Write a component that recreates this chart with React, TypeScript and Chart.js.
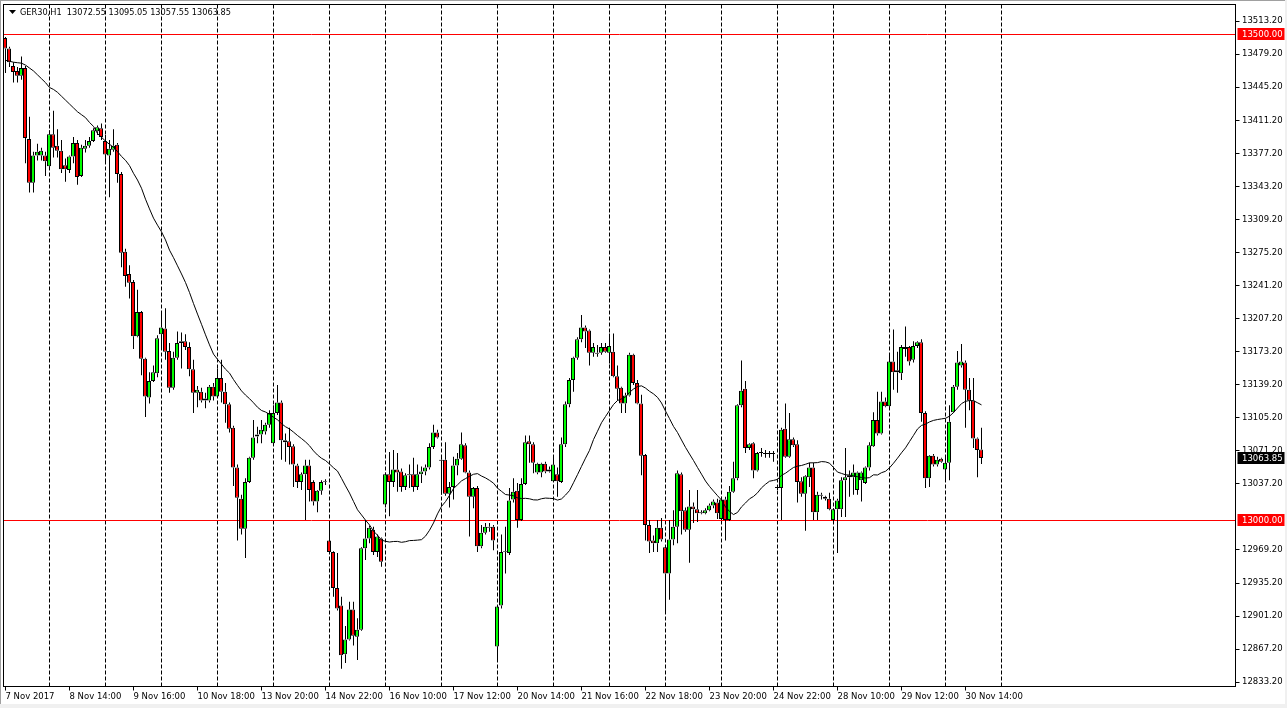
import React, { useEffect, useRef } from "react";
import { Chart, registerables } from "chart.js";

Chart.register(...registerables);

const symbol = "GER30";
const timeframe = "H1";
const year = 2017;
const tradingDays = ["7 Nov", "8 Nov", "9 Nov", "10 Nov", "13 Nov", "14 Nov", "15 Nov", "16 Nov", "17 Nov", "20 Nov", "21 Nov", "22 Nov", "23 Nov", "24 Nov", "27 Nov", "28 Nov", "29 Nov", "30 Nov", "1 Dec"];
const firstSessionHour = 12;
const sessionOpenHour = 9;
const sessionCloseHour = 22;
const totalSlots = 308;
const timeLabelEvery = 16;

const open = [
  13496, 13485, 13467, 13462, 13457, 13465, 13392, 13347, 13375, 13375,
  13375, 13364, 13397, 13385, 13380, 13365, 13360, 13374, 13388, 13354,
  13382, 13385, 13390, 13400, 13403, 13390, 13375, 13381, 13386, 13356,
  13276, 13253, 13245, 13189, 13214, 13166, 13126, 13143, 13151, 13191,
  13197, 13174, 13136, 13167, 13182, 13184, 13178, 13155, 13131, 13132,
  13125, 13123, 13137, 13127, 13146, 13132, 13119, 13095, 13054, 13022,
  12991, 13039, 13064, 13086, 13088, 13091, 13098, 13079, 13110, 13121,
  13082, 13081, 13076, 13056, 13039, 13047, 13056, 13039, 13019, 13030,
  13040, 12979, 12967, 12930, 12912, 12862, 12877, 12908, 12880, 12887,
  12971, 12981, 12990, 12967, 12981, 13016, 13047, 13039, 13052, 13050,
  13034, 13047, 13047, 13034, 13047, 13050, 13054, 13075, 13090, 13062,
  13062, 13027, 13034, 13056, 13063, 13077, 13049, 13024, 13033, 12973,
  12987, 12993, 12993, 12870, 12912, 12967, 12966, 13021, 13030, 13000,
  13037, 13081, 13078, 13049, 13049, 13058, 13052, 13040, 13047, 13039,
  13078, 13119, 13144, 13167, 13186, 13198, 13195, 13172, 13171, 13172,
  13178, 13172, 13173, 13148, 13136, 13120, 13128, 13170, 13141, 13120,
  13067, 12995, 12979, 12976, 12992, 12972, 12945, 12980, 12993, 13047,
  13010, 12990, 13014, 13011, 13008, 13007, 13010, 13015, 13018, 13001,
  13021, 13000, 13029, 13043, 13118, 13135, 13074, 13079, 13051, 13070,
  13069, 13069, 13069, 13034, 13033, 13094, 13065, 13083, 13078, 13040,
  13027, 13044, 13054, 13008, 13026, 13024, 13022, 13000, 13011, 13011,
  13041, 13046, 13044, 13031, 13041, 13038, 13054, 13076, 13103, 13089,
  13122, 13117, 13163, 13154, 13151, 13178, 13178, 13165, 13179, 13183,
  13110, 13043, 13066, 13057, 13063, 13052, 13059, 13111, 13137, 13159,
  13162, 13134, 13123, 13084, 13072.55,
];
const high = [
  13497, 13487, 13471, 13466, 13477, 13467, 13415, 13379, 13387, 13383,
  13379, 13401, 13421, 13402, 13391, 13372, 13375, 13394, 13391, 13386,
  13391, 13394, 13403, 13406, 13408, 13396, 13391, 13402, 13388, 13358,
  13279, 13262, 13247, 13237, 13215, 13167, 13152, 13159, 13190, 13212,
  13218, 13182, 13173, 13194, 13193, 13191, 13183, 13165, 13138, 13136,
  13131, 13139, 13141, 13156, 13165, 13141, 13121, 13097, 13057, 13026,
  13043, 13065, 13103, 13096, 13103, 13100, 13113, 13118, 13139, 13123,
  13089, 13095, 13078, 13058, 13049, 13062, 13062, 13041, 13031, 13041,
  13042, 12996, 12968, 12966, 12921, 12891, 12916, 12916, 12899, 12972,
  13000, 12994, 12993, 12985, 12982, 13049, 13070, 13072, 13069, 13053,
  13048, 13057, 13064, 13057, 13055, 13057, 13079, 13098, 13093, 13067,
  13080, 13039, 13065, 13069, 13090, 13079, 13051, 13034, 13035, 12995,
  12997, 12997, 12995, 12912, 12985, 12993, 13033, 13043, 13038, 13043,
  13087, 13087, 13080, 13059, 13059, 13060, 13055, 13065, 13054, 13085,
  13122, 13146, 13168, 13188, 13211, 13200, 13196, 13182, 13180, 13182,
  13182, 13192, 13192, 13159, 13137, 13131, 13172, 13171, 13144, 13129,
  13068, 13000, 12984, 13000, 13002, 12973, 13000, 13010, 13051, 13049,
  13013, 13031, 13018, 13031, 13010, 13012, 13017, 13021, 13022, 13024,
  13024, 13035, 13060, 13119, 13164, 13143, 13079, 13080, 13070, 13074,
  13072, 13071, 13071, 13036, 13095, 13120, 13110, 13085, 13082, 13044,
  13046, 13059, 13059, 13029, 13028, 13025, 13028, 13012, 13022, 13044,
  13074, 13051, 13057, 13050, 13050, 13055, 13080, 13111, 13132, 13132,
  13126, 13170, 13196, 13173, 13180, 13199, 13179, 13184, 13184, 13186,
  13112, 13067, 13068, 13065, 13064, 13065, 13118, 13139, 13174, 13181,
  13164, 13146, 13146, 13085, 13095.05,
];
const low = [
  13460, 13466, 13450, 13450, 13453, 13367, 13337, 13337, 13370, 13370,
  13354, 13360, 13373, 13373, 13357, 13348, 13357, 13367, 13345, 13353,
  13378, 13383, 13389, 13396, 13391, 13367, 13332, 13379, 13347, 13260,
  13240, 13228, 13176, 13188, 13149, 13106, 13120, 13142, 13147, 13177,
  13165, 13131, 13134, 13165, 13156, 13175, 13148, 13110, 13116, 13121,
  13115, 13121, 13123, 13126, 13121, 13100, 13090, 13035, 12979, 12985,
  12961, 13038, 13062, 13079, 13079, 13088, 13095, 13077, 13108, 13062,
  13060, 13057, 13034, 13033, 13031, 13000, 13019, 13015, 13008, 13026,
  13036, 12966, 12921, 12907, 12847, 12853, 12876, 12871, 12856, 12886,
  12959, 12976, 12964, 12962, 12952, 13013, 13004, 13034, 13029, 13029,
  13031, 13033, 13029, 13031, 13038, 13046, 13052, 13073, 13084, 13026,
  13025, 13013, 13021, 13046, 13062, 13048, 12983, 13012, 12967, 12971,
  12985, 12988, 12969, 12856, 12909, 12945, 12964, 13018, 12992, 12999,
  13036, 13059, 13048, 13047, 13044, 13048, 13049, 13039, 13024, 13038,
  13075, 13116, 13132, 13165, 13183, 13177, 13159, 13168, 13168, 13170,
  13172, 13161, 13147, 13123, 13110, 13110, 13127, 13139, 13119, 13046,
  12979, 12966, 12967, 12967, 12978, 12904, 12918, 12974, 12976, 12985,
  12988, 12956, 12997, 12998, 13006, 13006, 13009, 13012, 13001, 13000,
  12979, 12999, 13028, 13041, 13116, 13069, 13072, 13043, 13050, 13065,
  13064, 13064, 13060, 13031, 13000, 13064, 13064, 13075, 13018, 13024,
  12989, 13034, 13000, 13000, 13021, 13020, 13010, 12999, 12966, 13003,
  13003, 13024, 13026, 13026, 13019, 13037, 13051, 13075, 13087, 13088,
  13116, 13116, 13134, 13131, 13144, 13168, 13159, 13162, 13177, 13101,
  13033, 13034, 13055, 13055, 13059, 13041, 13041, 13110, 13134, 13157,
  13095, 13113, 13074, 13044, 13057.55,
];
const close = [
  13485, 13471, 13461, 13457, 13465, 13393, 13347, 13375, 13379, 13380,
  13369, 13397, 13383, 13380, 13361, 13361, 13374, 13388, 13353, 13383,
  13385, 13390, 13401, 13404, 13394, 13376, 13382, 13385, 13356, 13275,
  13251, 13244, 13189, 13214, 13166, 13127, 13143, 13152, 13187, 13198,
  13173, 13136, 13167, 13182, 13184, 13178, 13155, 13131, 13134, 13123,
  13123, 13137, 13127, 13146, 13132, 13119, 13094, 13054, 13023, 12991,
  13039, 13064, 13085, 13088, 13093, 13098, 13110, 13110, 13121, 13082,
  13080, 13075, 13057, 13039, 13047, 13056, 13031, 13019, 13030, 13039,
  13039, 12967, 12930, 12909, 12861, 12877, 12908, 12881, 12887, 12971,
  12981, 12992, 12967, 12983, 12957, 13047, 13039, 13052, 13049, 13034,
  13046, 13046, 13034, 13047, 13050, 13054, 13075, 13090, 13085, 13061,
  13027, 13034, 13056, 13063, 13078, 13049, 13024, 13033, 12973, 12987,
  12993, 12992, 12979, 12911, 12967, 12968, 13020, 13029, 13000, 13037,
  13080, 13078, 13059, 13058, 13058, 13050, 13050, 13057, 13040, 13078,
  13119, 13144, 13167, 13186, 13198, 13194, 13172, 13178, 13172, 13178,
  13173, 13179, 13148, 13135, 13120, 13128, 13170, 13141, 13120, 13066,
  12995, 12978, 12976, 12992, 12980, 12945, 12980, 12993, 13048, 13009,
  12990, 13014, 13011, 13007, 13007, 13010, 13015, 13019, 13007, 13021,
  13000, 13029, 13043, 13118, 13133, 13074, 13078, 13051, 13069, 13069,
  13068, 13068, 13068, 13033, 13093, 13065, 13083, 13077, 13039, 13027,
  13045, 13054, 13008, 13026, 13025, 13022, 13011, 13011, 13020, 13041,
  13044, 13044, 13049, 13049, 13049, 13054, 13077, 13103, 13089, 13122,
  13117, 13163, 13152, 13152, 13178, 13176, 13163, 13179, 13183, 13110,
  13043, 13066, 13057, 13062, 13060, 13059, 13101, 13137, 13162, 13163,
  13134, 13123, 13084, 13072, 13063.85,
];

const maLead = [
  13473, 13472, 13471, 13470.5, 13470, 13468, 13465, 13462, 13458, 13454,
  13450, 13445, 13443, 13440, 13436, 13432, 13428, 13424, 13420, 13417,
  13414, 13409, 13405,
];
const maPeriod = 24;

const priceTicks = [
  13513.2, 13479.2, 13445.2, 13411.2, 13377.2, 13343.2, 13309.2, 13275.2, 13241.2, 13207.2,
  13173.2, 13139.2, 13105.2, 13071.2, 13037.2, 12969.2, 12935.2, 12901.2, 12867.2, 12833.2,
];
const levelLines = [13500, 13000];
const priceMin = 12828.73;
const priceMax = 13530.37;

// ---------- derived ----------
type BarTime = { day: string; hour: number };
const barTimes: BarTime[] = [];
tradingDays.forEach((day, d) => {
  const start = d === 0 ? firstSessionHour : sessionOpenHour;
  for (let h = start; h <= sessionCloseHour; h++) barTimes.push({ day, hour: h });
});
const pad2 = (n: number) => (n < 10 ? "0" + n : String(n));
const slotLabels: string[] = [];
for (let i = 0; i < totalSlots; i++) {
  const t = barTimes[i];
  slotLabels.push(t ? `${t.day} ${pad2(t.hour)}:00` : "");
}
const lastIdx = close.length - 1;
const maValues = close.map((_, i) => {
  if (i < maLead.length) return maLead[i];
  let s = 0;
  for (let k = i - maPeriod + 1; k <= i; k++) s += close[k];
  return s / maPeriod;
});
const timeTickIdx: number[] = [];
for (let i = 0; i <= lastIdx; i += timeLabelEvery) timeTickIdx.push(i);

const upperWick = high.map((h, i) => [Math.max(open[i], close[i]), h]);
const lowerWick = low.map((l, i) => [l, Math.min(open[i], close[i])]);
const bodies = open.map((o, i) => ({ x: i, y: [o, close[i]] }));

const BULL = "#00ff00";
const BEAR = "#ff0000";
const FONT = "'DejaVu Sans', sans-serif";

const mt4Plugin = {
  id: "mt4Decor",
  beforeDraw(chart: any) {
    const { ctx, width, height } = chart;
    ctx.save();
    ctx.fillStyle = "#ffffff";
    ctx.fillRect(0, 0, width, height);
    ctx.restore();
  },
  beforeDatasetsDraw(chart: any) {
    const { ctx, chartArea: a, scales } = chart;
    const xs = scales.x;
    const ys = scales.y;
    ctx.save();
    ctx.strokeStyle = "#000000";
    ctx.lineWidth = 1;
    ctx.setLineDash([4, 2]);
    barTimes.forEach((t, i) => {
      if (i > 0 && t.hour === sessionOpenHour && i <= lastIdx + 6) {
        const px = Math.floor(xs.getPixelForValue(i)) + 0.5;
        ctx.beginPath();
        ctx.moveTo(px, a.top);
        ctx.lineTo(px, a.bottom);
        ctx.stroke();
      }
    });
    ctx.setLineDash([]);
    ctx.strokeStyle = "#ff0000";
    levelLines.forEach((v) => {
      const py = Math.floor(ys.getPixelForValue(v)) + 0.5;
      ctx.beginPath();
      ctx.moveTo(a.left, py);
      ctx.lineTo(a.right, py);
      ctx.stroke();
    });
    ctx.restore();
  },
  afterDraw(chart: any) {
    const { ctx, chartArea: a, scales, width, height } = chart;
    const ys = scales.y;
    ctx.save();
    ctx.strokeStyle = "#000000";
    ctx.lineWidth = 1;
    ctx.strokeRect(a.left, a.top, a.right - a.left, a.bottom - a.top);
    ctx.fillStyle = "#a0a0a0";
    ctx.fillRect(0, 0, 1, height);
    ctx.fillRect(0, 0, width, 1);
    ctx.fillStyle = "#f0f0f0";
    ctx.fillRect(0, height - 4, width, 4);
    ctx.fillRect(width - 2, 0, 2, height);

    ctx.fillStyle = "#000000";
    ctx.beginPath();
    ctx.moveTo(9, 10);
    ctx.lineTo(16, 10);
    ctx.lineTo(12.5, 14);
    ctx.closePath();
    ctx.fill();
    ctx.font = `8.2px ${FONT}`;
    ctx.textBaseline = "middle";
    ctx.textAlign = "left";
    const hdr = `${symbol},${timeframe}  ${open[lastIdx].toFixed(2)} ${high[lastIdx].toFixed(2)} ${low[lastIdx].toFixed(2)} ${close[lastIdx].toFixed(2)}`;
    ctx.fillText(hdr, 20, 13);

    ctx.font = `8.5px ${FONT}`;
    const tag = (v: number, bg: string) => {
      const py = Math.round(ys.getPixelForValue(v));
      ctx.fillStyle = bg;
      ctx.fillRect(a.right + 2, py - 6, 47, 12);
      ctx.fillStyle = "#ffffff";
      ctx.fillText(v.toFixed(2), a.right + 6.5, py + 0.5);
    };
    levelLines.forEach((v) => tag(v, "#ff0000"));
    tag(close[lastIdx], "#000000");
    ctx.restore();
  },
};

export default function App() {
  const ref = useRef<HTMLCanvasElement | null>(null);
  useEffect(() => {
    document.body.style.margin = "0";
    const canvas = ref.current;
    if (!canvas) return;
    const wickBase = {
      type: "bar",
      backgroundColor: "#000000",
      borderWidth: 0,
      barThickness: 1,
      maxBarThickness: 1,
      grouped: false,
      inflateAmount: 0,
      order: 3,
    };
    const chart = new Chart(canvas, {
      type: "bar",
      data: {
        labels: slotLabels,
        datasets: [
          {
            type: "line",
            data: maValues,
            borderColor: "#000000",
            borderWidth: 1,
            pointRadius: 0,
            tension: 0,
            order: 1,
          } as any,
          {
            type: "bar",
            xAxisID: "xb",
            data: bodies,
            backgroundColor: open.map((o, i) => (close[i] >= o ? BULL : BEAR)),
            borderColor: "#000000",
            borderWidth: 1,
            borderSkipped: false,
            barThickness: 4,
            maxBarThickness: 4,
            grouped: false,
            inflateAmount: 0,
            order: 2,
          } as any,
          { ...wickBase, data: upperWick } as any,
          { ...wickBase, data: lowerWick } as any,
        ],
      },
      options: {
        responsive: false,
        animation: false,
        devicePixelRatio: 1,
        events: [],
        layout: { padding: { left: 3.5, top: 4.5, right: 0, bottom: 0 } },
        plugins: { legend: { display: false }, tooltip: { enabled: false } },
        scales: {
          x: {
            type: "category",
            offset: true,
            afterBuildTicks: (scale: any) => {
              scale.ticks = timeTickIdx.map((v) => ({ value: v }));
            },
            afterFit: (scale: any) => {
              scale.height = 21.5;
              scale.paddingLeft = 0;
              scale.paddingRight = 0;
            },
            grid: { offset: false, drawOnChartArea: false, drawTicks: true, tickLength: 4, color: "#000000" },
            border: { display: false },
            ticks: {
              autoSkip: false,
              maxRotation: 0,
              minRotation: 0,
              align: "start",
              padding: 1,
              color: "#000000",
              font: { family: FONT, size: 8.5 },
              callback: (value: any) => {
                const t = barTimes[Number(value)];
                if (!t) return "";
                return Number(value) === 0 ? `${t.day} ${year}` : `${t.day} ${pad2(t.hour)}:00`;
              },
            },
          },
          xb: {
            type: "linear",
            display: false,
            offset: false,
            min: -0.375,
            max: totalSlots - 0.375,
          },
          y: {
            type: "linear",
            position: "right",
            min: priceMin,
            max: priceMax,
            afterBuildTicks: (scale: any) => {
              scale.ticks = priceTicks.map((v) => ({ value: v }));
            },
            afterFit: (scale: any) => {
              scale.width = 51.5;
              scale.paddingTop = 0;
              scale.paddingBottom = 0;
            },
            grid: { drawOnChartArea: false, drawTicks: true, tickLength: 4, color: "#000000" },
            border: { display: false },
            ticks: {
              padding: 2.5,
              color: "#000000",
              font: { family: FONT, size: 8.5 },
              callback: (v: any) => Number(v).toFixed(2),
            },
          },
        },
      } as any,
      plugins: [mt4Plugin],
    });
    return () => chart.destroy();
  }, []);
  return <canvas ref={ref} width={1287} height={708} style={{ display: "block" }} />;
}
